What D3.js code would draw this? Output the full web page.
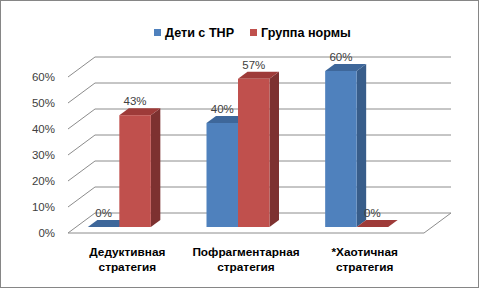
<!DOCTYPE html>
<html><head><meta charset="utf-8">
<script src="https://cdn.jsdelivr.net/npm/d3@7"></script>
<style>html,body{margin:0;padding:0;background:#fff;}svg{display:block;}</style>
</head><body>
<script>
const categories = ["Дедуктивная стратегия", "Пофрагментарная стратегия", "*Хаотичная стратегия"];
const seriesNames = ["Дети с ТНР", "Группа нормы"];
const seriesTHR = [0, 40, 60];
const seriesNorm = [43, 57, 0];
const ticks = [0, 10, 20, 30, 40, 50, 60];
const tickLabels = ["0%", "10%", "20%", "30%", "40%", "50%", "60%"];

const W = 481, H = 289;
const svg = d3.select("body").append("svg").attr("width", W).attr("height", H);
svg.append("rect").attr("width", W).attr("height", H).attr("fill", "#fff");
svg.append("rect").attr("x", 0.5).attr("y", 0.5).attr("width", 478).attr("height", 287)
  .attr("fill", "none").attr("stroke", "#868686").attr("stroke-width", 1);

const fx0 = 68, fx1 = 424;
const y = d3.scaleLinear().domain([0, 60]).range([233, 77]);
const wallDx = 27, wallDy = -20;
const gridColor = "#8c8c8c";

const g = svg.append("g");
ticks.forEach(t => {
  const yf = y(t);
  g.append("line").attr("x1", fx0 + wallDx).attr("x2", fx1 + wallDx)
    .attr("y1", yf + wallDy).attr("y2", yf + wallDy)
    .attr("stroke", gridColor).attr("stroke-width", 1);
  g.append("line").attr("x1", fx0).attr("y1", yf).attr("x2", fx0 + wallDx).attr("y2", yf + wallDy)
    .attr("stroke", gridColor).attr("stroke-width", 1);
});
g.append("path").attr("d", `M${fx0},${y(0)}L${fx1},${y(0)}L${fx1 + wallDx},${y(0) + wallDy}`)
  .attr("fill", "none").attr("stroke", gridColor).attr("stroke-width", 1);

ticks.forEach((t, i) => {
  svg.append("text").attr("x", 55).attr("y", y(t) + 4).attr("text-anchor", "end")
    .attr("font-family", "Liberation Sans, Arial, sans-serif").attr("font-size", 11.5)
    .attr("fill", "#404040").text(tickLabels[i]);
});

const xb = d3.scaleBand().domain(categories).range([60, 416]);
const pairW = 63, barW = pairW / 2;
const baseShiftY = -6;
const bdx = 9.5, bdy = -7;
const colors = [
  {front: "#4F81BD", top: "#3E679A", side: "#385D8A"},
  {front: "#C0504D", top: "#9E3B39", side: "#7D3130"}
];
const series = [seriesTHR, seriesNorm];
const labels = [];
categories.forEach((c, ci) => {
  const cx = xb(c) + xb.bandwidth() / 2;
  series.forEach((s, si) => {
    const v = s[ci];
    const x0 = cx - pairW / 2 + si * barW;
    const yb = y(0) + baseShiftY;
    const yt = y(v) + baseShiftY;
    const col = colors[si];
    g.append("polygon").attr("points",
      [[x0 + barW, yt], [x0 + barW + bdx, yt + bdy], [x0 + barW + bdx, yb + bdy], [x0 + barW, yb]].map(p => p.join(",")).join(" "))
      .attr("fill", col.side);
    g.append("polygon").attr("points",
      [[x0, yt], [x0 + barW, yt], [x0 + barW + bdx, yt + bdy], [x0 + bdx, yt + bdy]].map(p => p.join(",")).join(" "))
      .attr("fill", col.top);
    if (yb - yt > 0) g.append("rect").attr("x", x0).attr("y", yt).attr("width", barW).attr("height", yb - yt)
      .attr("fill", col.front);
    labels.push({x: x0 + barW / 2, y: yt - 10, t: v + "%"});
  });
});
labels.forEach(l => {
  svg.append("text").attr("x", l.x).attr("y", l.y).attr("text-anchor", "middle")
    .attr("font-family", "Liberation Sans, Arial, sans-serif").attr("font-size", 11.5)
    .attr("fill", "#404040").text(l.t);
});

const xc = d3.scaleBand().domain(categories).range([fx0, fx1]);
categories.forEach(c => {
  const cx = xc(c) + xc.bandwidth() / 2;
  const parts = c.split(" ");
  const t = svg.append("text").attr("text-anchor", "middle")
    .attr("font-family", "Liberation Sans, Arial, sans-serif").attr("font-size", 11.8)
    .attr("font-weight", "bold").attr("fill", "#000");
  parts.forEach((p, i) => t.append("tspan").attr("x", cx).attr("y", 256 + i * 14.5).text(p));
});

const legX = [154, 250];
seriesNames.forEach((n, i) => {
  svg.append("rect").attr("x", legX[i]).attr("y", 29).attr("width", 7).attr("height", 7)
    .attr("fill", colors[i].front);
  svg.append("text").attr("x", legX[i] + 11).attr("y", 36.5)
    .attr("font-family", "Liberation Sans, Arial, sans-serif").attr("font-size", 12.6)
    .attr("font-weight", "bold").attr("fill", "#000").text(n);
});
</script>
</body></html>
